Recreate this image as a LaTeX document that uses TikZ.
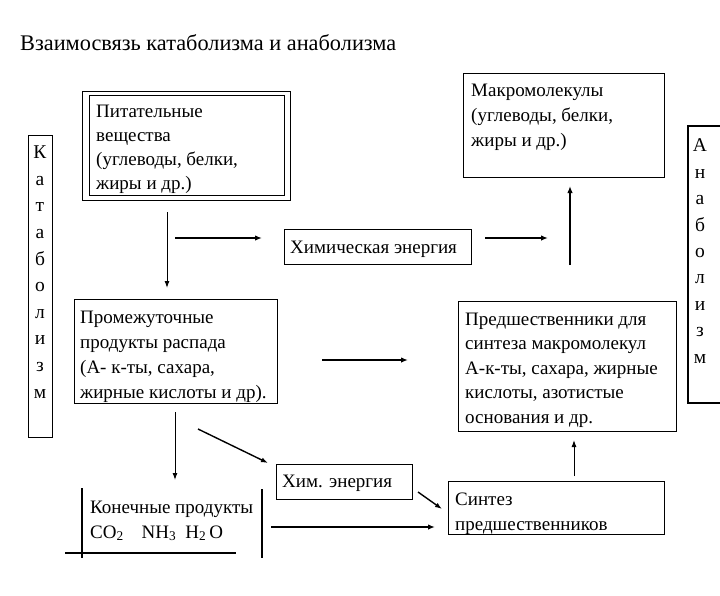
\documentclass[tikz,border=0pt]{standalone}
\usepackage{fontspec}
\setmainfont{Liberation Serif}
\usetikzlibrary{arrows.meta}
\begin{document}
\begin{tikzpicture}[x=1pt,y=-1pt,
  box/.style={draw, line width=1.2pt, inner sep=0pt, anchor=north west},
  txt/.style={anchor=base west, inner sep=0pt, align=left, font=\fontsize{19}{24.5}\selectfont},
  stack/.style={anchor=base, inner sep=0pt, align=center, font=\fontsize{19.5}{26.6}\selectfont},
  arr/.style={-{Latex[length=7pt,width=5pt]}, line width=1pt},
  marr/.style={-{Latex[length=7pt,width=5pt]}, line width=1.4pt},
  tarr/.style={-{Latex[length=7pt,width=5.5pt]}, line width=1.9pt},
  plain/.style={line width=1.2pt}]
\useasboundingbox (0,0) rectangle (720,595);

% title
\node[anchor=base west, inner sep=0pt, font=\fontsize{22.3}{26}\selectfont] (title) at (20,50) {Взаимосвязь катаболизма и анаболизма};

% katabolism side box
\node[box, minimum width=24pt, minimum height=302pt] (katbox) at (28,135) {};
\node[stack] (kattext) at (40,398) {К\\а\\т\\а\\б\\о\\л\\и\\з\\м};

% anabolism side box (open to the right)
\draw[plain] (721,126) -- (688,126) -- (688,403) -- (721,403);
\node[stack, font=\fontsize{19.5}{26.4}\selectfont] (anatext) at (700,363) {А\\н\\а\\б\\о\\л\\и\\з\\м};

% nutrients (double frame)
\node[box, minimum width=208pt, minimum height=109pt] (nutrOuter) at (82,91) {};
\node[box, minimum width=195pt, minimum height=100pt] (nutr) at (89,95) {};
\node[txt, font=\fontsize{19}{24}\selectfont] (nutrT) at (96,189) {Питательные\\вещества\\(углеводы, белки,\\жиры и др.)};

% chemical energy
\node[box, minimum width=187pt, minimum height=35pt] (chem) at (284,229) {};
\node[txt] (chemT) at (290,253) {Химическая энергия};

% macromolecules
\node[box, minimum width=201pt, minimum height=104pt] (macro) at (463,73) {};
\node[txt, font=\fontsize{19}{25}\selectfont] (macroT) at (471,146) {Макромолекулы\\(углеводы, белки,\\жиры и др.)};

% intermediates
\node[box, minimum width=203pt, minimum height=104pt] (inter) at (74,299) {};
\node[txt, font=\fontsize{19}{25}\selectfont] (interT) at (80,398) {Промежуточные\\продукты распада\\(А- к-ты, сахара,\\жирные кислоты и др).};

% precursors
\node[box, minimum width=218pt, minimum height=130pt] (prec) at (458,301) {};
\node[txt] (precT) at (465,423) {Предшественники для\\синтеза макромолекул\\А-к-ты, сахара, жирные\\кислоты, азотистые\\основания и др.};

% small chem energy
\node[box, minimum width=136pt, minimum height=35pt] (chem2) at (276,464) {};
\node[txt] (chem2T) at (282,487) {Хим. энергия};

% synthesis of precursors
\node[box, minimum width=216pt, minimum height=53pt] (synth) at (448,481) {};
\node[txt, font=\fontsize{19}{25}\selectfont] (synthT) at (455,530) {Синтез\\предшественников};

% end products
\node[txt, font=\fontsize{19}{25}\selectfont] (endT) at (90,538) {Конечные продукты\\CO\textsubscript{2}\hspace{18pt}NH\textsubscript{3}\hspace{9pt}H\textsubscript{2}\,O};
\draw[plain] (82,488) -- (82,558);
\draw[plain] (262,489) -- (262,558);
\draw[plain] (65,553) -- (236,553);

% arrow end points
\coordinate (a1s) at (167,212); \coordinate (a1e) at (167,288);
\coordinate (a2s) at (175,238); \coordinate (a2e) at (262,238);
\coordinate (a3s) at (485,238); \coordinate (a3e) at (548,238);
\coordinate (a4s) at (570,265); \coordinate (a4e) at (570,186);
\coordinate (a5s) at (322,360); \coordinate (a5e) at (408,360);
\coordinate (a6s) at (175,412); \coordinate (a6e) at (175,480);
\coordinate (a7s) at (198,429); \coordinate (a7e) at (268,463);
\coordinate (a8s) at (418,492); \coordinate (a8e) at (442,509);
\coordinate (a9s) at (271,527); \coordinate (a9e) at (435,527);
\coordinate (a10s) at (574,476); \coordinate (a10e) at (574,440);

\draw[arr] (a1s) -- (a1e);
\draw[tarr] (a2s) -- (a2e);
\draw[tarr] (a3s) -- (a3e);
\draw[tarr] (a4s) -- (a4e);
\draw[tarr] (a5s) -- (a5e);
\draw[arr] (a6s) -- (a6e);
\draw[marr] (a7s) -- (a7e);
\draw[marr] (a8s) -- (a8e);
\draw[tarr] (a9s) -- (a9e);
\draw[arr] (a10s) -- (a10e);
\end{tikzpicture}
\end{document}
